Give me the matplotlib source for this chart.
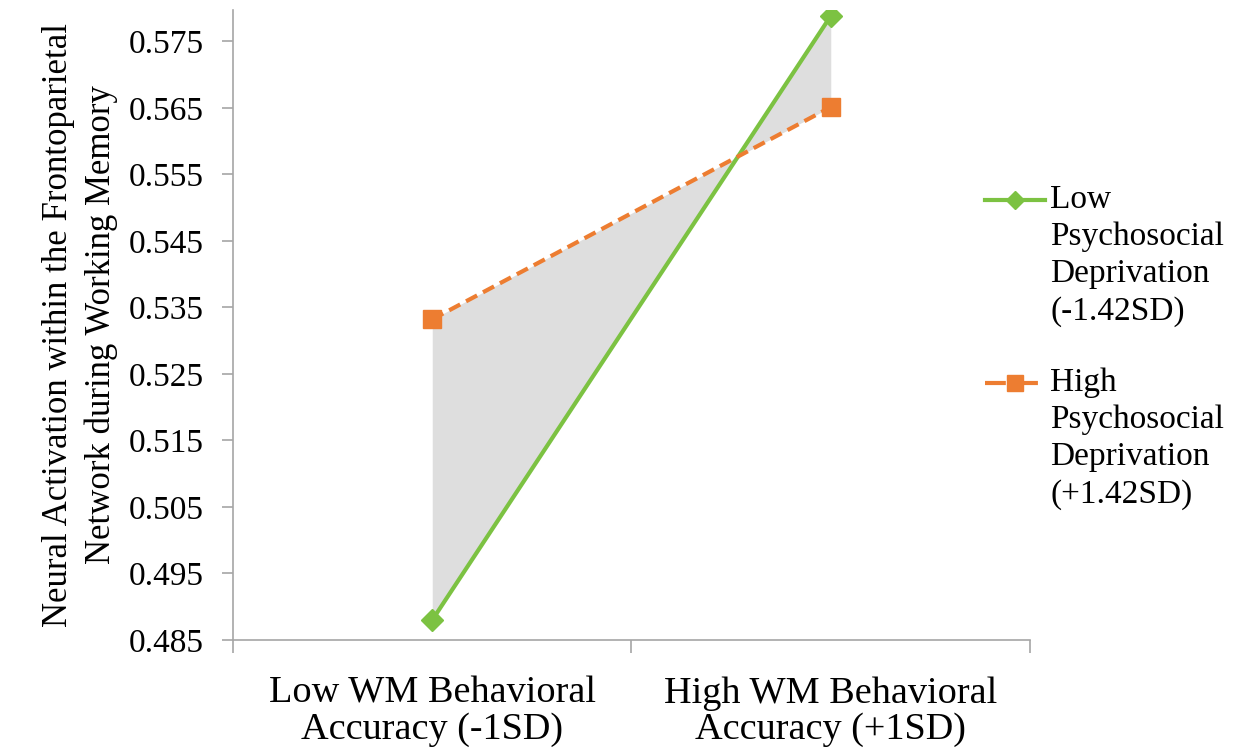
import matplotlib
matplotlib.use("Agg")
import matplotlib.pyplot as plt
from matplotlib.lines import Line2D

# ── data ──────────────────────────────────────────────
categories = ["Low WM Behavioral\nAccuracy (-1SD)", "High WM Behavioral\nAccuracy (+1SD)"]
low_dep = [0.4880, 0.5788]    # low psychosocial deprivation (-1.42SD)
high_dep = [0.5332, 0.5651]   # high psychosocial deprivation (+1.42SD)
yticks = [0.485, 0.495, 0.505, 0.515, 0.525, 0.535, 0.545, 0.555, 0.565, 0.575]
series_names = ["Low\nPsychosocial\nDeprivation\n(-1.42SD)",
                "High\nPsychosocial\nDeprivation\n(+1.42SD)"]

GREEN = "#7CC242"
ORANGE = "#ED7D31"
AXIS = "#A6A6A6"

plt.rcParams["font.family"] = ["Liberation Serif", "DejaVu Serif"]

fig = plt.figure(figsize=(12.34, 7.5), dpi=100)
ax = fig.add_axes([0.1888, 0.1467, 0.6459, 0.84])

x = [0, 1]
green_style = dict(color=GREEN, lw=3, marker="D", ms=11)
orange_style = dict(color=ORANGE, lw=3, ls=(0, (3, 1.6)), marker="s", ms=13)

ax.fill_between(x, low_dep, high_dep, color="#DEDEDE", linewidth=0, zorder=1)
ax.plot(x, low_dep, zorder=3, **green_style)
ax.plot(x, high_dep, zorder=3, **orange_style)

ax.set_xlim(-0.5, 1.5)
ax.set_ylim(0.485, 0.5797)

# category boundaries carry the tick marks, labels sit in the middle
ax.set_xticks([-0.5, 0.5, 1.5])
ax.set_xticklabels([])
ax.set_xticks(x, minor=True)
ax.set_xticklabels(categories, minor=True, fontsize=27.5, linespacing=1.05)
ax.tick_params(axis="x", which="major", length=9, color=AXIS, width=1.2)
ax.tick_params(axis="x", which="minor", length=0, pad=26)

ax.set_yticks(yticks)
ax.set_yticklabels([f"{v:.3f}" for v in yticks], fontsize=24)
ax.tick_params(axis="y", length=8, color=AXIS, width=1.2, pad=13)

for s in ("top", "right"):
    ax.spines[s].set_visible(False)
for s in ("left", "bottom"):
    ax.spines[s].set_color(AXIS)
    ax.spines[s].set_linewidth(1.2)

ax.set_ylabel("Neural Activation within the Frontoparietal\nNetwork during Working Memory",
              fontsize=25, labelpad=8, linespacing=1.35)

# legend drawn by hand so the key sits next to the first line of each label
legend_keys = [
    (200, dict(color=GREEN, lw=3), dict(color=GREEN, marker="D", ms=9), series_names[0]),
    (383, dict(color=ORANGE, lw=3, ls=(0, (5, 2.7))), dict(color=ORANGE, marker="s", ms=12),
     series_names[1]),
]
for y0, line_kw, mark_kw, name in legend_keys:
    yf = 1 - y0 / 750
    fig.add_artist(Line2D([985 / 1234, 1045 / 1234], [yf, yf],
                          transform=fig.transFigure, **line_kw))
    fig.add_artist(Line2D([1015 / 1234], [yf], transform=fig.transFigure, ls="none", **mark_kw))
    fig.text(1050 / 1234, yf + 16 / 750, name, fontsize=24, va="top", ha="left",
             linespacing=1.29)

fig.savefig("out.png", dpi=100, facecolor="white")
